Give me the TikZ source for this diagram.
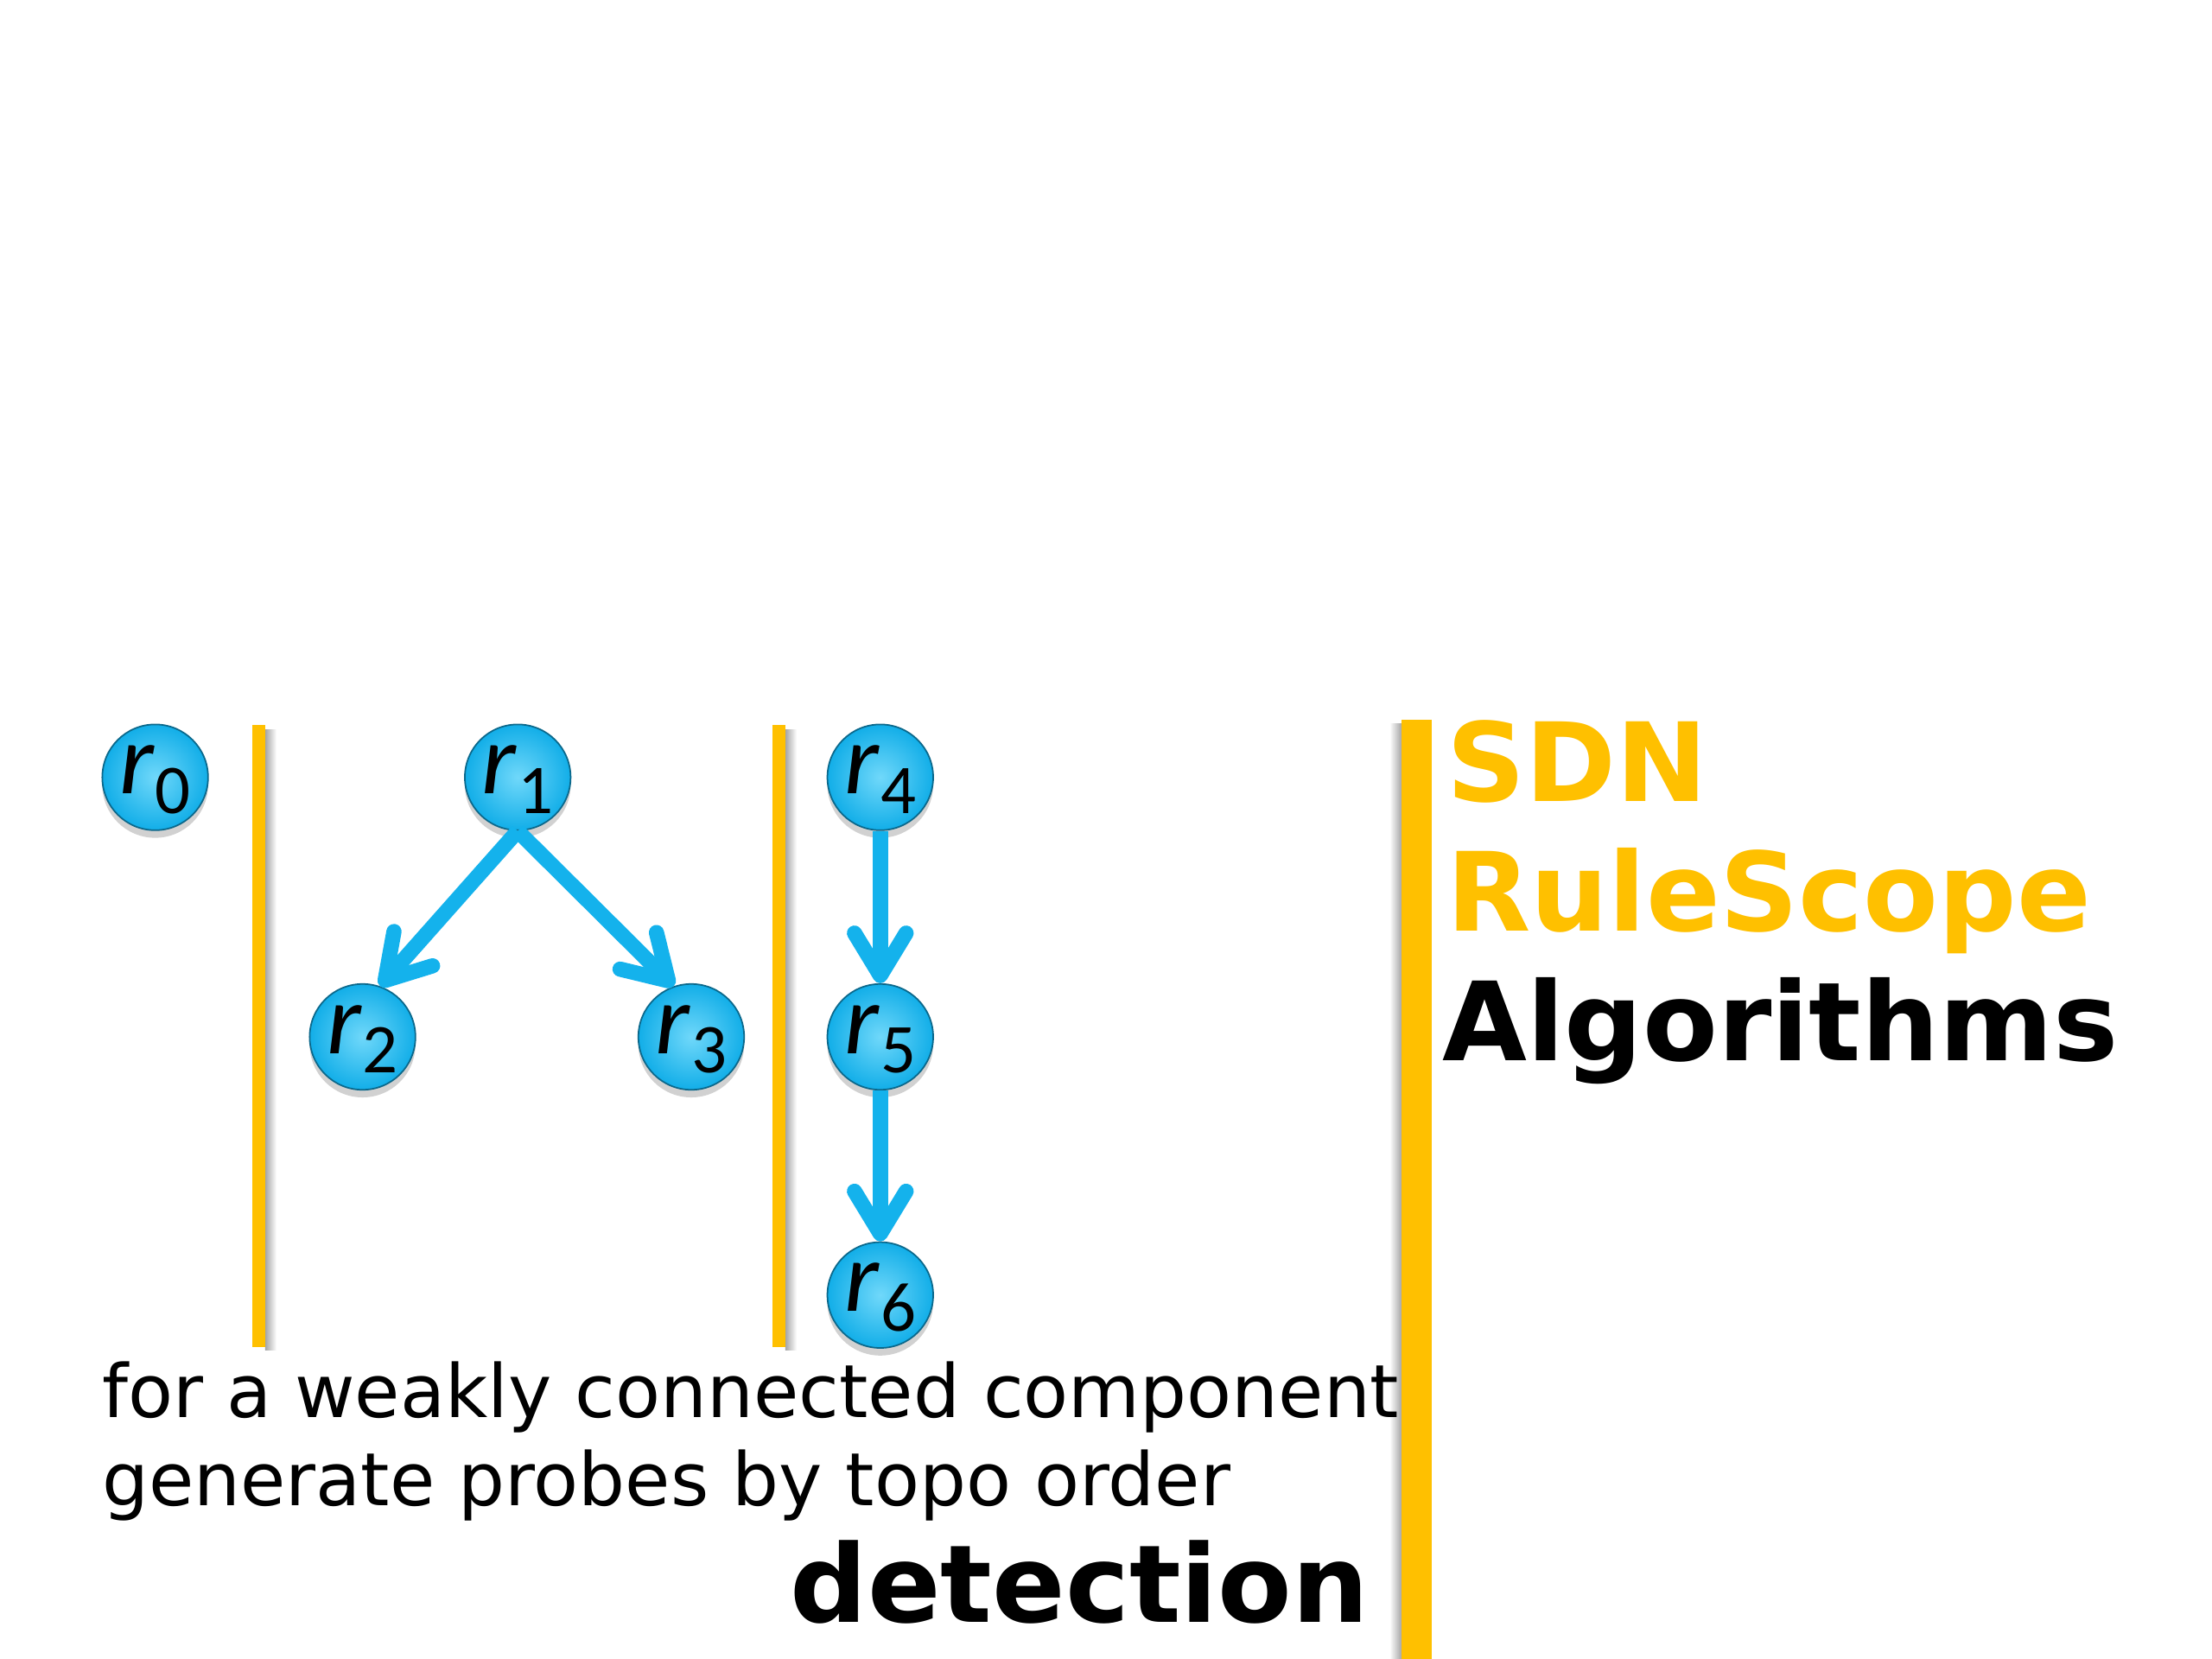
\documentclass[tikz,border=0pt]{standalone}
\usepackage{fontspec}
\setmainfont{DejaVu Sans}
\newfontfamily\carl{Carlito}
\usetikzlibrary{arrows.meta,shadows}
\definecolor{gold}{HTML}{FFC000}
\definecolor{ablue}{HTML}{14B2EC}
\definecolor{nin}{HTML}{70D8FA}
\definecolor{nout}{HTML}{12AEE8}
\newcommand\rl[1]{\raisebox{-5.4pt}[0pt][0pt]{{\carl\fontsize{33}{33}\selectfont\itshape r}\kern0.5pt\raisebox{-6.5pt}{\carl\fontsize{23}{23}\selectfont #1}}}
\begin{document}
\begin{tikzpicture}[x=0.016327cm,y=-0.016327cm,
  rnode/.style={circle,minimum size=1.2245cm,inner sep=0pt,draw=nout!60!black,line width=0.5pt,
    inner color=nin,outer color=nout,
    drop shadow={shadow xshift=0pt,shadow yshift=-2.5pt,opacity=0.18,fill=black}},
  arr/.style={ablue,line width=5pt,-{Straight Barb[round,length=14pt,width=17pt]}},
  body/.style={anchor=base west,inner sep=0pt,font=\fontsize{24.2}{29}\selectfont},
  title/.style={anchor=base west,inner sep=0pt,font=\fontsize{36}{40}\selectfont\bfseries}
]
\useasboundingbox (0,0) rectangle (1568,1176);
\fill[white] (0,0) rectangle (1568,1176);

% separators
\shade[left color=gray!70,right color=white] (188,517) rectangle (196,957);
\fill[gold] (178.8,514) rectangle (188,955);
\shade[left color=gray!70,right color=white] (556.7,517) rectangle (564.7,957);
\fill[gold] (547.5,514) rectangle (556.7,955);
\shade[left color=white,right color=gray!70] (985,513) rectangle (993.5,1176);
\fill[gold] (993.5,510) rectangle (1015,1176);

% nodes
\node[rnode] (r0) at (110,551) {\rl{0}};
\node[rnode] (r1) at (367,551) {\rl{1}};
\node[rnode] (r2) at (257,735) {\rl{2}};
\node[rnode] (r3) at (490,735) {\rl{3}};
\node[rnode] (r4) at (624,551) {\rl{4}};
\node[rnode] (r5) at (624,735) {\rl{5}};
\node[rnode] (r6) at (624,918) {\rl{6}};

% edges
\draw[arr] (r1.south) -- (r2.71);
\draw[arr] (r1.south) -- (r3.109);
\draw[arr] (r4.south) -- (r5.north);
\draw[arr] (r5.south) -- (r6.north);

% texts
\node[body] (t1) at (72,1005) {for a weakly connected component};
\node[body] (t2) at (72,1067) {generate probes by topo order};
\node[title,font=\fontsize{35.5}{40}\selectfont\bfseries] (det) at (560,1150) {detection};
\node[title,text=gold] (sdn) at (1025,568) {SDN};
\node[title,text=gold] (rs) at (1025,660) {RuleScope};
\node[title] (alg) at (1022,752) {Algorithms};
\end{tikzpicture}
\end{document}
